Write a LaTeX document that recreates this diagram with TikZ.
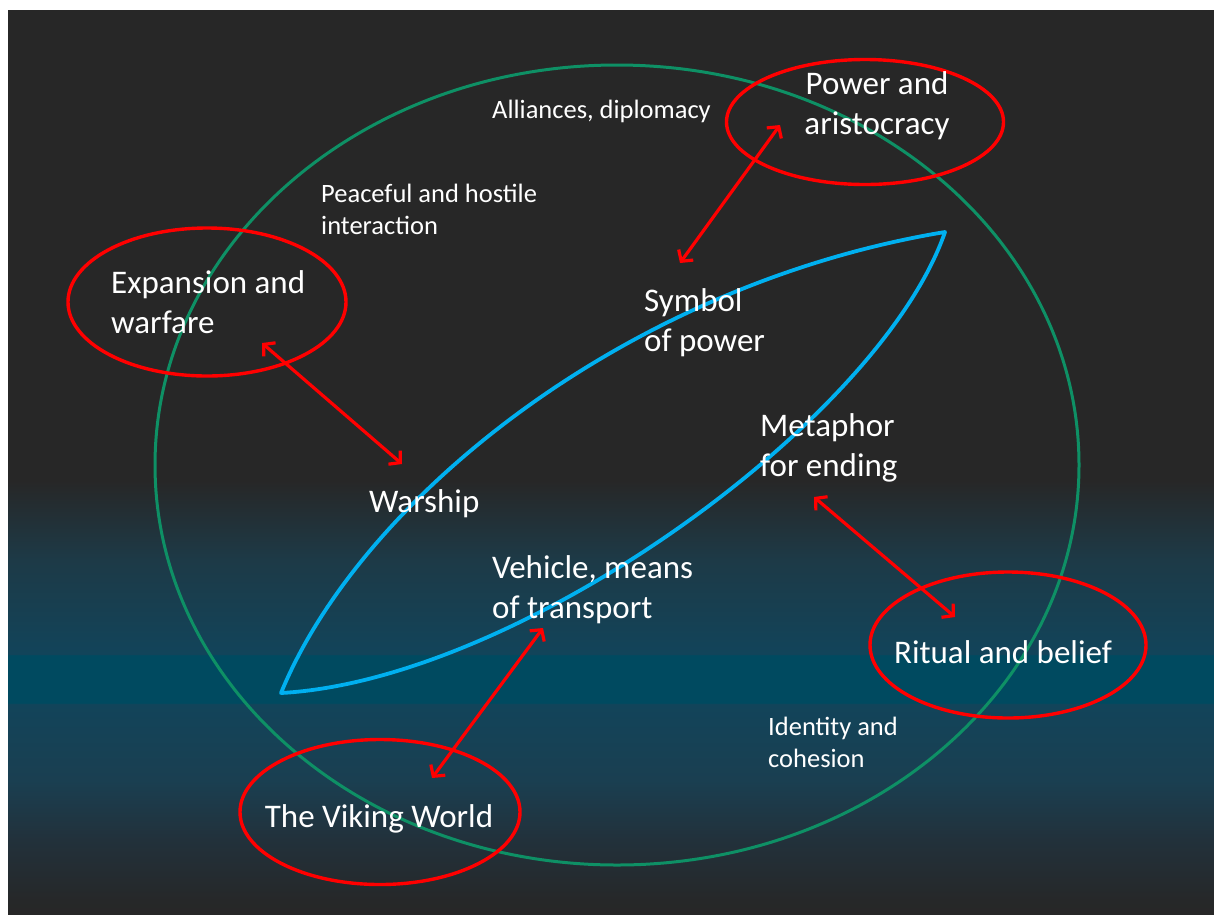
\documentclass[tikz,border=0pt]{standalone}
\usepackage{fontspec}
\setmainfont{Carlito}
\usetikzlibrary{arrows.meta,shapes.geometric}
\definecolor{bgA}{HTML}{272727}
\definecolor{bgB}{HTML}{262829}
\definecolor{bgC}{HTML}{22313B}
\definecolor{bgD}{HTML}{1A3F51}
\definecolor{bgE}{HTML}{12445A}
\definecolor{bgF}{HTML}{004A60}
\definecolor{bgG}{HTML}{1D3A47}
\definecolor{ringgreen}{HTML}{0E9065}
\definecolor{shipblue}{HTML}{00B0F0}
\definecolor{themered}{HTML}{FF0000}
\pgfdeclareverticalshading{bgshade}{100bp}{color(0bp)=(bgA); color(25bp)=(bgA); color(25.77bp)=(bgB); color(29.09bp)=(bgC); color(32.41bp)=(bgD); color(36.62bp)=(bgE); color(36.67bp)=(bgF); color(39.33bp)=(bgF); color(39.38bp)=(bgE); color(44.58bp)=(bgG); color(49bp)=(bgA); color(75bp)=(bgA); color(100bp)=(bgA)}
\tikzset{
  theme/.style={draw=themered, line width=3.4pt, ellipse, inner sep=0pt},
  link/.style={draw=themered, line width=3.2pt, {Straight Barb[length=8pt,width=18pt]}-{Straight Barb[length=8pt,width=18pt]}},
  bigtext/.style={text=white, font=\fontsize{33}{40}\selectfont, inner sep=0pt, align=left},
  smalltext/.style={text=white, font=\fontsize{26.5}{32}\selectfont, inner sep=0pt, align=left},
}
\begin{document}
\begin{tikzpicture}[x=1pt,y=-1pt]
\useasboundingbox (0,0) rectangle (1214,914);
\fill[white] (0,0) rectangle (1214,914);
\shade[shading=bgshade] (8,10) rectangle (1214,914);
% world ring
\draw[ringgreen, line width=3pt] (617,465) ellipse [x radius=462, y radius=400];
% ship lens
\coordinate (stern) at (281,693);
\coordinate (bow) at (945,232);
\draw[shipblue, line width=3.8pt, line join=round] (stern) .. controls (360,500) and (625,285) .. (bow)
  .. controls (880,420) and (520,680) .. (stern) -- cycle;
% themes
\node[theme, minimum width=277pt, minimum height=125pt] (power) at (865,122) {};
\node[theme, minimum width=278pt, minimum height=148pt] (expansion) at (207,302) {};
\node[theme, minimum width=276pt, minimum height=146pt] (ritual) at (1008,645) {};
\node[theme, minimum width=280pt, minimum height=145pt] (viking) at (380,812) {};
% link end points
\coordinate (pwA) at (780,125); \coordinate (pwB) at (680,263);
\coordinate (exA) at (262,343); \coordinate (exB) at (402,464);
\coordinate (riA) at (814,497); \coordinate (riB) at (955,617);
\coordinate (viA) at (543,628); \coordinate (viB) at (432,778);
\draw[link] (pwA) -- (pwB);
\draw[link] (exA) -- (exB);
\draw[link] (riA) -- (riB);
\draw[link] (viA) -- (viB);
% texts (base anchor = baseline of the last line)
\node[bigtext, align=center, anchor=base] (tpower) at (877,134) {Power and\\aristocracy};
\node[bigtext, anchor=base west] (texp) at (111,333) {Expansion and\\warfare};
\node[bigtext, anchor=base] (trit) at (1003,663) {Ritual and belief};
\node[bigtext, anchor=base] (tvik) at (379,827) {The Viking World};
\node[bigtext, anchor=base west] (tsym) at (644,351) {Symbol\\of power};
\node[bigtext, anchor=base west] (tmet) at (760,476) {Metaphor\\for ending};
\node[bigtext, anchor=base west] (twar) at (369,512) {Warship};
\node[bigtext, anchor=base west] (tveh) at (492,618) {Vehicle, means\\of transport};
\node[smalltext, anchor=base west] (tall) at (492,118) {Alliances, diplomacy};
\node[smalltext, anchor=base west] (tpea) at (321,234) {Peaceful and hostile\\interaction};
\node[smalltext, anchor=base west] (tide) at (768,767) {Identity and\\cohesion};
\end{tikzpicture}
\end{document}
